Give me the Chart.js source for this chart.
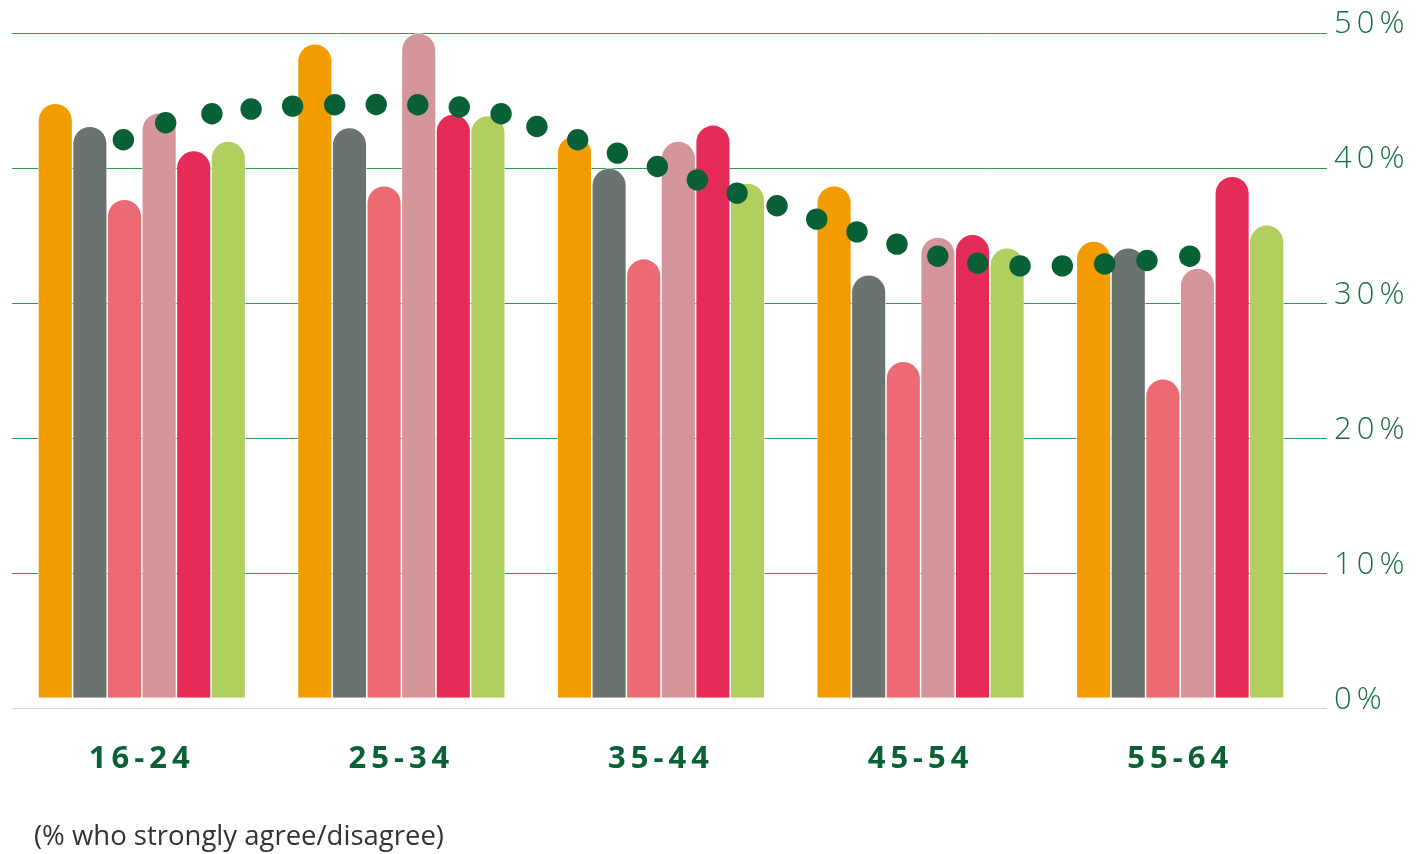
<!DOCTYPE html>
<html lang="en">
<head>
    <meta charset="UTF-8">
    <title>Strongly agree / disagree by age</title>
    <style>
        body {
            margin: 0;
            background: #fff;
        }
        .wrap {
            position: relative;
            width: 1416px;
            height: 854px;
        }
        canvas {
            display: block;
        }
        .note {
            position: absolute;
            left: 34px;
            top: 821px;
            font-family: 'Open Sans', sans-serif;
            font-size: 27.5px;
            line-height: 1;
            color: #333;
        }
    </style>
</head>
<body>
<div class="wrap">
    <canvas id="chart"></canvas>
    <div class="note">(% who strongly agree/disagree)</div>
</div>

<script src="https://cdn.jsdelivr.net/npm/chart.js"></script>
<script>
    // age groups on the x axis
    const ageGroups = ['16-24', '25-34', '35-44', '45-54', '55-64'];

    // six bar series, % per age group
    const orangeVals = [44.8, 49.2, 42.4, 38.7, 34.6];
    const greyVals   = [43.1, 43.0, 40.0, 32.1, 34.1];
    const salmonVals = [37.7, 38.7, 33.3, 25.7, 24.4];
    const pinkVals   = [44.1, 50.0, 42.0, 34.9, 32.6];
    const redVals    = [41.3, 44.0, 43.2, 35.1, 39.4];
    const limeVals   = [42.0, 43.9, 38.9, 34.1, 35.8];

    // dotted trend: position in age-group units, value in %
    const trendPos = [-0.071, 0.092, 0.270, 0.421, 0.581, 0.743, 0.903, 1.063, 1.223, 1.384,
                      1.522, 1.679, 1.832, 1.986, 2.140, 2.293, 2.447, 2.600, 2.755, 2.909,
                      3.066, 3.220, 3.383, 3.546, 3.709, 3.872, 4.037];
    const trendVals = [42.10, 43.36, 44.02, 44.37, 44.59, 44.69, 44.71, 44.69, 44.52, 44.02,
                       43.08, 42.10, 41.11, 40.12, 39.13, 38.15, 37.21, 36.22, 35.28, 34.37,
                       33.48, 32.96, 32.76, 32.76, 32.91, 33.16, 33.48];

    // y axis ticks
    const yTicks = [0, 10, 20, 30, 40, 50];

    const FONT = "'Open Sans', sans-serif";

    // one shared linear x axis (a second x axis doubles the bar groups in 4.5)
    function barSet(label, values, color) {
        return {
            type: 'bar',
            label: label,
            data: values.map((v, i) => ({ x: i, y: v })),
            base: 0.8,
            backgroundColor: color,
            borderColor: '#ffffff',
            borderWidth: 0.75,
            borderSkipped: 'start',
            borderRadius: 20,
            categoryPercentage: 0.8,
            barPercentage: 1.0,
            order: 1
        };
    }

    // canvas has no css letter-spacing, so set it on the context
    const spacing = {
        id: 'spacing',
        beforeLayout(chart) { chart.ctx.letterSpacing = '5px'; },
        beforeDraw(chart) { chart.ctx.letterSpacing = '5px'; }
    };

    new Chart(document.getElementById('chart').getContext('2d'), {
        type: 'bar',
        data: {
            datasets: [
                barSet('Series 1', orangeVals, '#f39c00'),
                barSet('Series 2', greyVals, '#6b7371'),
                barSet('Series 3', salmonVals, '#ec6a73'),
                barSet('Series 4', pinkVals, '#d4969b'),
                barSet('Series 5', redVals, '#e52b58'),
                barSet('Series 6', limeVals, '#b1cf5f'),
                {
                    type: 'scatter',
                    label: 'Trend',
                    data: trendPos.map((p, i) => ({ x: p, y: trendVals[i] })),
                    pointRadius: 10.7,
                    pointBackgroundColor: '#086036',
                    pointBorderWidth: 0,
                    order: 0
                }
            ]
        },
        options: {
            responsive: true,
            maintainAspectRatio: false,
            animation: false,
            layout: {
                padding: { top: 33, left: 12, right: 0, bottom: 0 }
            },
            plugins: {
                legend: { display: false },
                tooltip: { enabled: false }
            },
            scales: {
                x: {
                    type: 'linear',
                    offset: false,
                    min: -0.5,
                    max: 4.5,
                    afterBuildTicks: s => { s.ticks = ageGroups.map((g, i) => ({ value: i })); },
                    grid: { display: false, offset: false },
                    border: { display: false },
                    ticks: {
                        color: '#0b6136',
                        padding: 24,
                        autoSkip: false,
                        maxRotation: 0,
                        callback: (v, i) => ageGroups[i],
                        font: { family: FONT, size: 31, weight: 'bold' }
                    },
                    afterFit: s => { s.height = 145.5; }
                },
                y: {
                    position: 'right',
                    min: 0,
                    max: 50,
                    afterBuildTicks: s => { s.ticks = yTicks.map(v => ({ value: v })); },
                    ticks: {
                        color: '#15703f',
                        padding: 7,
                        labelOffset: -8.5,
                        callback: v => v + '%',
                        font: { family: FONT, size: 31, weight: 300 }
                    },
                    grid: {
                        color: c => c.tick && c.tick.value === 0 ? '#c8dcca' : '#2e9955',
                        lineWidth: 1,
                        tickLength: 17
                    },
                    border: { display: false },
                    afterFit: s => { s.width = 106; }
                }
            }
        },
        plugins: [spacing]
    });
</script>
</body>
</html>
